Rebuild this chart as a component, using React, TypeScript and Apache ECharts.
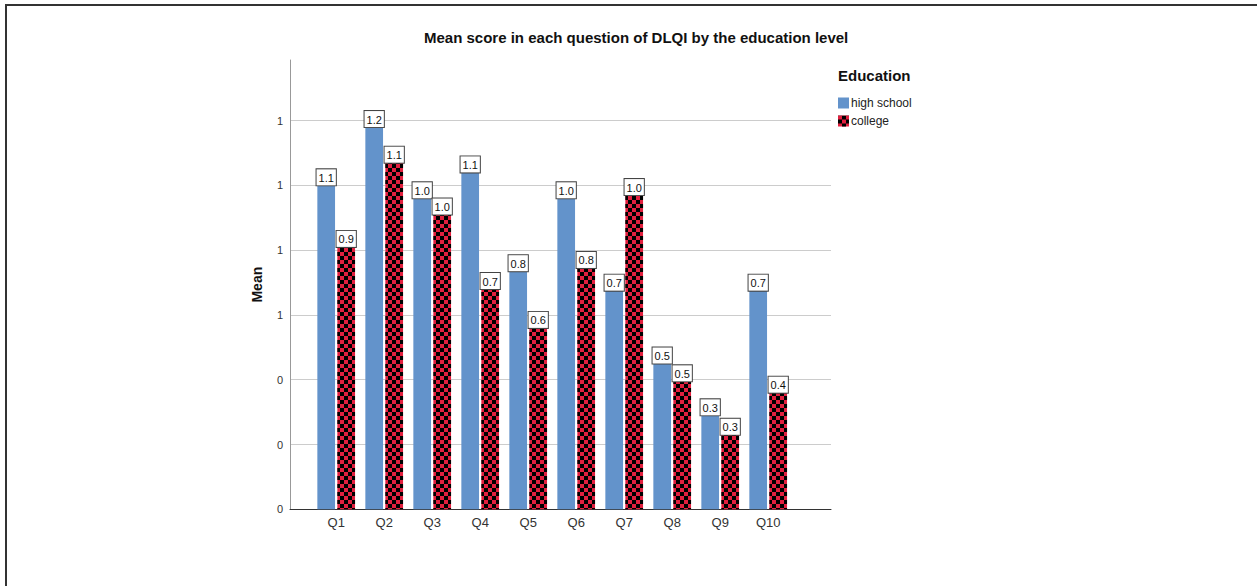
import React, { useEffect, useRef } from "react";
import * as echarts from "echarts";

const categories = ["Q1", "Q2", "Q3", "Q4", "Q5", "Q6", "Q7", "Q8", "Q9", "Q10"];
const highSchool = [1.0, 1.18, 0.96, 1.04, 0.735, 0.96, 0.675, 0.45, 0.29, 0.675];
const college = [0.81, 1.07, 0.91, 0.68, 0.56, 0.745, 0.97, 0.395, 0.23, 0.36];
const highSchoolLabels = ["1.1", "1.2", "1.0", "1.1", "0.8", "1.0", "0.7", "0.5", "0.3", "0.7"];
const collegeLabels = ["0.9", "1.1", "1.0", "0.7", "0.6", "0.8", "1.0", "0.5", "0.3", "0.4"];
const seriesNames = ["high school", "college"];
const yMax = 1.387;
const yInterval = 0.2;

const FONT = "'Liberation Sans', Arial, sans-serif";

export default function App() {
  const ref = useRef<HTMLDivElement>(null);
  useEffect(() => {
    document.body.style.margin = "0";
    const chart = echarts.init(ref.current!, null, { renderer: "svg" });
    const labelBox = (labels: string[]) => ({
      show: true,
      position: "top",
      distance: 0,
      formatter: (p: any) => labels[p.dataIndex],
      color: "#111",
      fontSize: 11,
      fontFamily: FONT,
      backgroundColor: "#fff",
      borderColor: "#444",
      borderWidth: 1,
      padding: [3, 2, 2, 2],
    });
    const plotTop = 60;
    const plotHeight = 449.3;
    chart.setOption({
      animation: false,
      aria: { enabled: true, decal: { show: true } },
      textStyle: { fontFamily: FONT },
      title: [
        {
          text: "Mean score in each question of DLQI by the education level",
          left: 419,
          top: 25,
          textStyle: { fontSize: 15, fontWeight: "bold", color: "#111", fontFamily: FONT },
        },
        {
          text: "Education",
          left: 833,
          top: 63,
          textStyle: { fontSize: 15, fontWeight: "bold", color: "#111", fontFamily: FONT },
        },
      ],
      legend: {
        data: seriesNames,
        orient: "vertical",
        left: 833,
        top: 92,
        itemWidth: 11,
        itemHeight: 11,
        itemGap: 6,
        icon: "rect",
        textStyle: { fontSize: 12, color: "#222", fontFamily: FONT, padding: [0, 0, 0, -3] },
      },
      graphic: [
        { type: "line", shape: { x1: 5, y1: 5, x2: 1257, y2: 5 }, style: { stroke: "#333", lineWidth: 2 } },
        { type: "line", shape: { x1: 6, y1: 5, x2: 6, y2: 586 }, style: { stroke: "#333", lineWidth: 2 } },
      ],
      grid: [
        { left: 290, top: plotTop, width: 541, height: plotHeight },
        { left: 312.2, top: plotTop, width: 480, height: plotHeight },
      ],
      xAxis: [
        {
          type: "value",
          gridIndex: 0,
          min: 0,
          max: 1,
          axisLine: { show: true, lineStyle: { color: "#333", width: 1 } },
          axisTick: { show: false },
          axisLabel: { show: false },
          splitLine: { show: false },
        },
        {
          type: "category",
          gridIndex: 1,
          data: categories,
          axisLine: { show: false },
          axisTick: { show: false },
          axisLabel: { fontSize: 13, color: "#333", margin: 7, fontFamily: FONT },
        },
      ],
      yAxis: [
        {
          type: "value",
          gridIndex: 0,
          min: 0,
          max: yMax,
          interval: yInterval,
          name: "Mean",
          nameLocation: "middle",
          nameGap: 26,
          nameTextStyle: { fontSize: 14, fontWeight: "bold", color: "#111", fontFamily: FONT },
          axisLine: { show: true, lineStyle: { color: "#999", width: 1 } },
          axisTick: { show: false },
          axisLabel: {
            fontSize: 11,
            color: "#333",
            margin: 7,
            showMaxLabel: false,
            formatter: (v: number) => String(Math.round(v)),
          },
          splitLine: { show: true, showMaxLine: false, lineStyle: { color: "#cccccc", width: 1 } },
        },
        {
          type: "value",
          gridIndex: 1,
          min: 0,
          max: yMax,
          interval: yInterval,
          show: false,
          splitLine: { show: false },
        },
      ],
      series: [
        {
          name: seriesNames[0],
          type: "bar",
          xAxisIndex: 1,
          yAxisIndex: 1,
          data: highSchool,
          barWidth: 17.7,
          barGap: "13%",
          itemStyle: {
            color: "#6393cb",
            decal: { symbol: "rect", color: "rgba(0,0,0,0)", dashArrayX: [1, 0], dashArrayY: [1, 0] },
          },
          label: labelBox(highSchoolLabels),
        },
        {
          name: seriesNames[1],
          type: "bar",
          xAxisIndex: 1,
          yAxisIndex: 1,
          data: college,
          barWidth: 17.7,
          barGap: "13%",
          itemStyle: {
            color: "#e2203f",
            decal: {
              symbol: "rect",
              symbolSize: 1,
              color: "#000",
              backgroundColor: "#e2203f",
              dashArrayX: [[4, 4], [0, 4, 4, 0]],
              dashArrayY: [4, 0],
              rotation: 0,
            },
          },
          label: labelBox(collegeLabels),
        },
      ],
    });
    return () => chart.dispose();
  }, []);
  return <div ref={ref} style={{ width: 1257, height: 586 }} />;
}
